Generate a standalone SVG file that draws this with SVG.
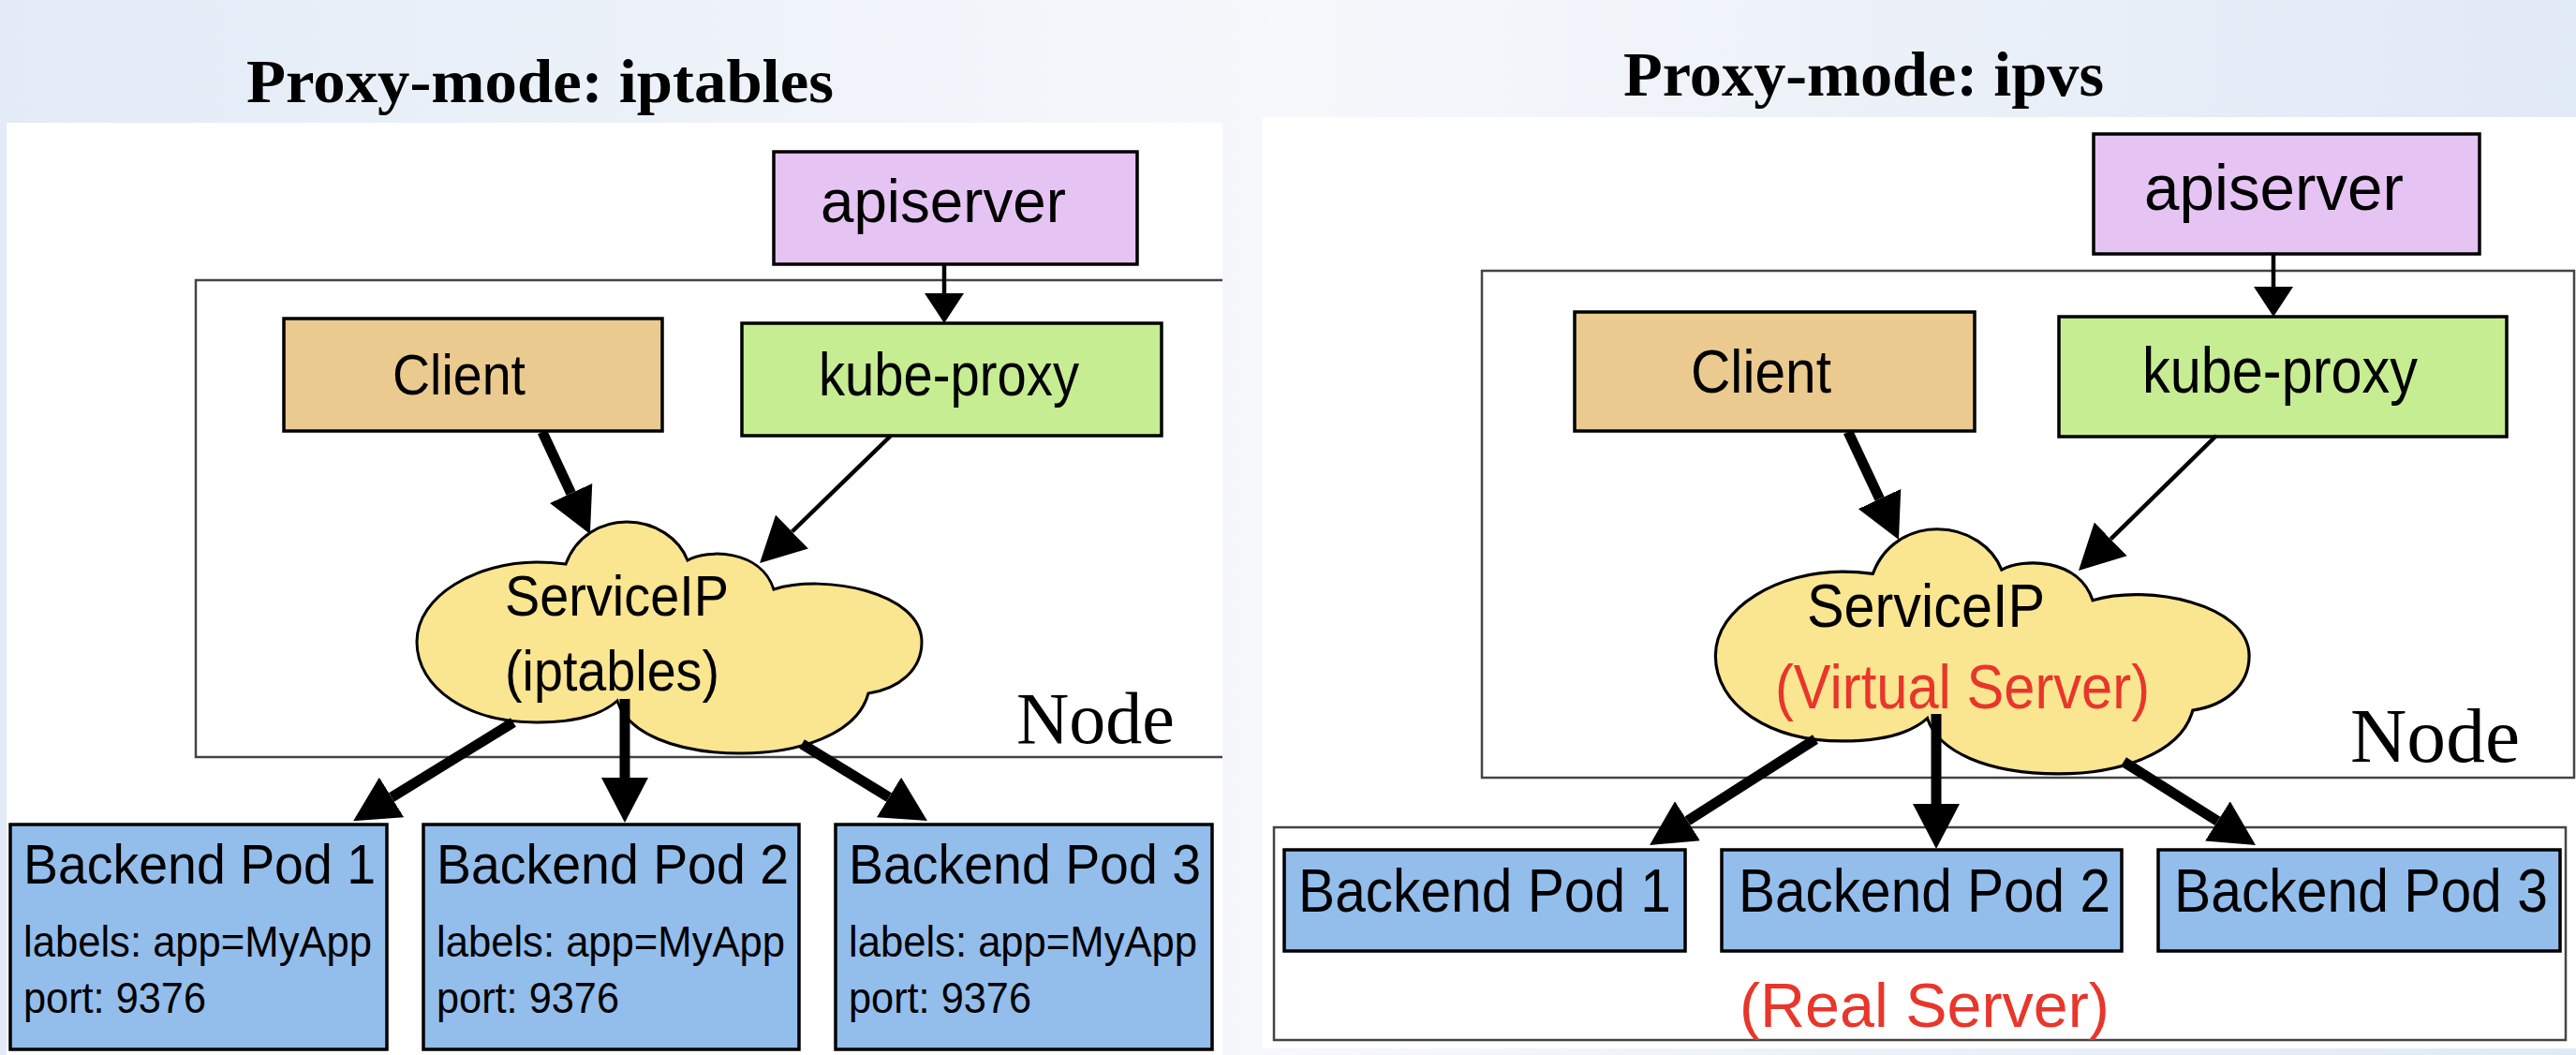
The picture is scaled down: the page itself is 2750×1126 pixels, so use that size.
<svg xmlns="http://www.w3.org/2000/svg" xmlns:xlink="http://www.w3.org/1999/xlink" width="2750" height="1126" viewBox="0 0 2750 1126">
  <style>
    .title { font-family: "Liberation Serif", "Times New Roman", serif; font-weight: bold; fill: #000; }
    .lbl { font-family: "Liberation Sans", Arial, sans-serif; fill: #000; }
    .red { fill: #e8362b; }
    .nodelbl { font-family: "Liberation Serif", "Times New Roman", serif; fill: #000; }
    .box { stroke: #000; stroke-width: 3.5; }
    .api { fill: #e5c3f3; }
    .client { fill: #eaca8f; }
    .kp { fill: #c6ed92; }
    .pod { fill: #93bdeb; }
    .frame { fill: none; stroke: #444; stroke-width: 2.5; }
    .cloud { fill: #fae591; stroke: #000; stroke-width: 3; }
    .thin { stroke: #000; stroke-width: 4.5; fill: none; }
    .thick { stroke: #000; stroke-width: 11; fill: none; }
  </style>
  <defs>
    <linearGradient id="bg" x1="0" y1="0" x2="1" y2="0">
      <stop offset="0" stop-color="#e2ebf7"/>
      <stop offset="0.5" stop-color="#f6f8fb"/>
      <stop offset="1" stop-color="#e0e9f6"/>
    </linearGradient>
    <marker id="headL" markerUnits="userSpaceOnUse" viewBox="0 0 48 50" markerWidth="48" markerHeight="50" refX="0" refY="25" orient="auto">
      <path d="M0,0 L48,25 L0,50 Z" fill="#000"/>
    </marker>
    <marker id="headS" markerUnits="userSpaceOnUse" viewBox="0 0 32 42" markerWidth="32" markerHeight="42" refX="0" refY="21" orient="auto">
      <path d="M0,0 L32,21 L0,42 Z" fill="#000"/>
    </marker>
    <path id="cloudShape" d="M604,602 C615,572 642,557 669,557 C700,557 725,575 734,598 C755,586 812,586 826,629 C880,612 984,632 984,685 C984,715 960,735 927,740 C915,785 850,804 791,804 C720,804 670,782 659,748 C640,765 610,771 573,771 C500,771 445,735 445,685 C445,635 510,600 573,600 C585,600 596,601 604,602 Z"/>
  </defs>

  <!-- background -->
  <rect x="0" y="0" width="2750" height="1126" fill="url(#bg)"/>
  <rect x="7" y="131" width="1298" height="995" fill="#ffffff"/>
  <rect x="1348" y="125" width="1402" height="994" fill="#ffffff"/>

  <!-- titles -->
  <text class="title" x="263" y="109" font-size="66" textLength="627" lengthAdjust="spacingAndGlyphs">Proxy-mode: iptables</text>
  <text class="title" x="1733" y="102" font-size="68" textLength="513" lengthAdjust="spacingAndGlyphs">Proxy-mode: ipvs</text>

  <!-- LEFT PANEL -->
  <g id="left-node-frame">
    <path class="frame" d="M1305,299 H209 V808 H1305"/>
    <text class="nodelbl" x="1085" y="793" font-size="79" textLength="169" lengthAdjust="spacingAndGlyphs">Node</text>
  </g>
  <g id="left-apiserver">
    <rect class="box api" x="826" y="162" width="388" height="120"/>
    <text class="lbl" x="876" y="237" font-size="64" textLength="262" lengthAdjust="spacingAndGlyphs">apiserver</text>
  </g>
  <g id="left-client">
    <rect class="box client" x="303" y="340" width="404" height="120"/>
    <text class="lbl" x="419" y="421" font-size="62" textLength="142" lengthAdjust="spacingAndGlyphs">Client</text>
  </g>
  <g id="left-kube-proxy">
    <rect class="box kp" x="792" y="345" width="448" height="120"/>
    <text class="lbl" x="874" y="422" font-size="64" textLength="278" lengthAdjust="spacingAndGlyphs">kube-proxy</text>
  </g>
  <g id="left-serviceip">
    <use xlink:href="#cloudShape" class="cloud"/>
    <text class="lbl" x="539" y="657" font-size="62" textLength="239" lengthAdjust="spacingAndGlyphs">ServiceIP</text>
    <text class="lbl" x="539" y="737" font-size="62" textLength="229" lengthAdjust="spacingAndGlyphs">(iptables)</text>
  </g>
  <g id="left-pod1">
    <rect class="box pod" x="11" y="880" width="402" height="240"/>
    <text class="lbl" x="25" y="943" font-size="60" textLength="376" lengthAdjust="spacingAndGlyphs">Backend Pod 1</text>
    <text class="lbl" x="25" y="1021" font-size="47" textLength="372" lengthAdjust="spacingAndGlyphs">labels: app=MyApp</text>
    <text class="lbl" x="25" y="1081" font-size="47" textLength="195" lengthAdjust="spacingAndGlyphs">port: 9376</text>
  </g>
  <g id="left-pod2">
    <rect class="box pod" x="452" y="880" width="401" height="240"/>
    <text class="lbl" x="466" y="943" font-size="60" textLength="376" lengthAdjust="spacingAndGlyphs">Backend Pod 2</text>
    <text class="lbl" x="466" y="1021" font-size="47" textLength="372" lengthAdjust="spacingAndGlyphs">labels: app=MyApp</text>
    <text class="lbl" x="466" y="1081" font-size="47" textLength="195" lengthAdjust="spacingAndGlyphs">port: 9376</text>
  </g>
  <g id="left-pod3">
    <rect class="box pod" x="892" y="880" width="402" height="240"/>
    <text class="lbl" x="906" y="943" font-size="60" textLength="376" lengthAdjust="spacingAndGlyphs">Backend Pod 3</text>
    <text class="lbl" x="906" y="1021" font-size="47" textLength="372" lengthAdjust="spacingAndGlyphs">labels: app=MyApp</text>
    <text class="lbl" x="906" y="1081" font-size="47" textLength="195" lengthAdjust="spacingAndGlyphs">port: 9376</text>
  </g>

  <!-- RIGHT PANEL -->
  <g id="right-node-frame">
    <rect class="frame" x="1582" y="289" width="1166" height="541"/>
    <text class="nodelbl" x="2509" y="813" font-size="83" textLength="181" lengthAdjust="spacingAndGlyphs">Node</text>
  </g>
  <g id="right-realserver-frame">
    <rect class="frame" x="1360" y="883" width="1379" height="227"/>
    <text class="lbl red" x="1857" y="1096" font-size="67" textLength="395" lengthAdjust="spacingAndGlyphs">(Real Server)</text>
  </g>
  <g id="right-apiserver">
    <rect class="box api" x="2235" y="143" width="412" height="128"/>
    <text class="lbl" x="2289" y="224" font-size="68" textLength="277" lengthAdjust="spacingAndGlyphs">apiserver</text>
  </g>
  <g id="right-client">
    <rect class="box client" x="1681" y="333" width="427" height="127"/>
    <text class="lbl" x="1805" y="419" font-size="65" textLength="150" lengthAdjust="spacingAndGlyphs">Client</text>
  </g>
  <g id="right-kube-proxy">
    <rect class="box kp" x="2198" y="338" width="478" height="128"/>
    <text class="lbl" x="2287" y="419" font-size="68" textLength="294" lengthAdjust="spacingAndGlyphs">kube-proxy</text>
  </g>
  <g id="right-serviceip">
    <use xlink:href="#cloudShape" class="cloud" transform="matrix(1.057 0 0 1.057 1361 -24)"/>
    <text class="lbl" x="1929" y="669" font-size="65" textLength="254" lengthAdjust="spacingAndGlyphs">ServiceIP</text>
    <text class="lbl red" x="1895" y="756" font-size="66" textLength="400" lengthAdjust="spacingAndGlyphs">(Virtual Server)</text>
  </g>
  <g id="right-pod1">
    <rect class="box pod" x="1371" y="907" width="428" height="108"/>
    <text class="lbl" x="1386" y="973" font-size="65" textLength="398" lengthAdjust="spacingAndGlyphs">Backend Pod 1</text>
  </g>
  <g id="right-pod2">
    <rect class="box pod" x="1838" y="907" width="427" height="108"/>
    <text class="lbl" x="1856" y="973" font-size="65" textLength="397" lengthAdjust="spacingAndGlyphs">Backend Pod 2</text>
  </g>
  <g id="right-pod3">
    <rect class="box pod" x="2304" y="907" width="429" height="108"/>
    <text class="lbl" transform="translate(2321 973) scale(0.905 1)" x="0" y="0" font-size="65">Backend Pod 3</text>
  </g>

  <!-- connectors -->
  <g id="connectors">
    <line class="thin" x1="1008" y1="282" x2="1008" y2="313" marker-end="url(#headS)"/>
    <line class="thick" x1="579" y1="461" x2="609.6" y2="526.5" marker-end="url(#headL)"/>
    <line class="thin" x1="951" y1="465" x2="845.5" y2="567.5" marker-end="url(#headL)"/>
    <line class="thick" x1="548" y1="771" x2="418" y2="851" marker-end="url(#headL)"/>
    <line class="thick" x1="667" y1="746" x2="667" y2="830" marker-end="url(#headL)"/>
    <line class="thick" x1="856" y1="794" x2="949" y2="851" marker-end="url(#headL)"/>

    <line class="thin" x1="2427" y1="272" x2="2427" y2="306" marker-end="url(#headS)"/>
    <line class="thick" x1="1973" y1="461" x2="2006.6" y2="532.5" marker-end="url(#headL)"/>
    <line class="thin" x1="2366" y1="465" x2="2253.3" y2="575.4" marker-end="url(#headL)"/>
    <line class="thick" x1="1938" y1="789" x2="1801.5" y2="876.2" marker-end="url(#headL)"/>
    <line class="thick" x1="2067" y1="762" x2="2067" y2="858" marker-end="url(#headL)"/>
    <line class="thick" x1="2267" y1="813" x2="2367.4" y2="876.4" marker-end="url(#headL)"/>
  </g>
</svg>
